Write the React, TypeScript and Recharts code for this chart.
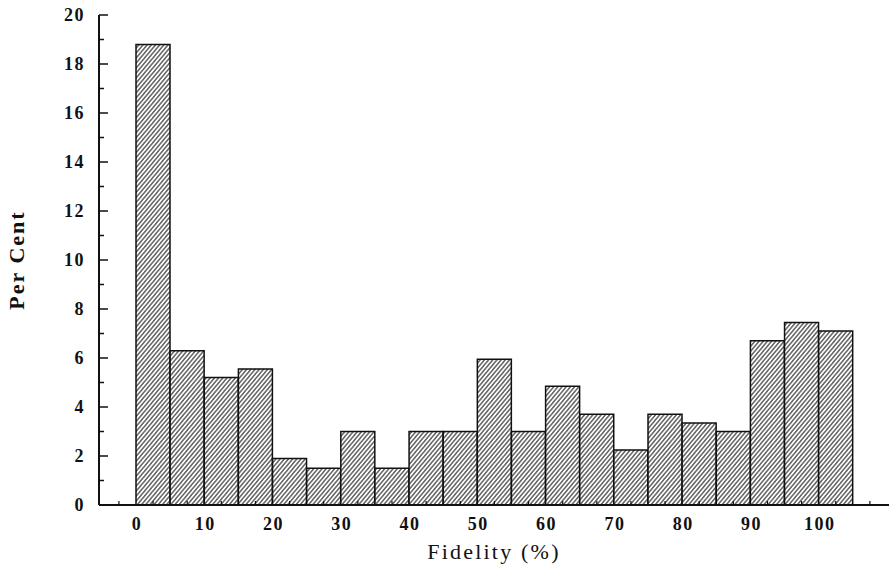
import React from "react";
import { BarChart, Bar, XAxis, YAxis } from "recharts";

// bin centres (bins are 5 wide, 0-5 ... 100-105)
const binMids = [
  2.5, 7.5, 12.5, 17.5, 22.5, 27.5, 32.5, 37.5, 42.5, 47.5, 52.5,
  57.5, 62.5, 67.5, 72.5, 77.5, 82.5, 87.5, 92.5, 97.5, 102.5
];
const perCent = [
  18.8, 6.3, 5.2, 5.55, 1.9, 1.5, 3.0, 1.5, 3.0, 3.0, 5.95,
  3.0, 4.85, 3.7, 2.25, 3.7, 3.35, 3.0, 6.7, 7.45, 7.1
];
const xLabelTicks = [0, 10, 20, 30, 40, 50, 60, 70, 80, 90, 100];
const xMinorTicks = [
  -2.5, 2.5, 7.5, 12.5, 17.5, 22.5, 27.5, 32.5, 37.5, 42.5, 47.5, 52.5,
  57.5, 62.5, 67.5, 72.5, 77.5, 82.5, 87.5, 92.5, 97.5, 102.5, 107.5
];
const yTicks = [0, 1, 2, 3, 4, 5, 6, 7, 8, 9, 10, 11, 12, 13, 14, 15, 16, 17, 18, 19, 20];

const chartData = binMids.map((mid, i) => ({ mid, value: perCent[i] }));
const xTicks = [...xMinorTicks, ...xLabelTicks].sort((a, b) => a - b);

const ink = "#111";
const font = "'Liberation Serif', 'Times New Roman', serif";
const Y_MARGIN = 14;
const X_MARGIN = 12;

function YTick(props: any) {
  const { x, y, payload } = props;
  const v = payload.value;
  const major = v % 2 === 0;
  const axisX = x + Y_MARGIN;
  return (
    <g>
      <line x1={axisX} x2={axisX + (major ? 9 : 5)} y1={y} y2={y} stroke={ink} strokeWidth={1.5} />
      {major && (
        <text
          x={x}
          y={y}
          dy="0.35em"
          textAnchor="end"
          fontFamily={font}
          fontSize={18}
          fontWeight="bold"
          letterSpacing={1.5}
          fill={ink}
        >
          {v}
        </text>
      )}
    </g>
  );
}

function XTick(props: any) {
  const { x, y, payload } = props;
  const v = payload.value;
  const axisY = y - X_MARGIN;
  if (v % 10 !== 0) {
    return <line x1={x} x2={x} y1={axisY} y2={axisY - 4} stroke={ink} strokeWidth={1.2} />;
  }
  return (
    <text
      x={x + 1}
      y={y}
      dy="0.71em"
      textAnchor="middle"
      fontFamily={font}
      fontSize={18}
      fontWeight="bold"
      letterSpacing={1.5}
      fill={ink}
    >
      {v}
    </text>
  );
}

export default function App() {
  return (
    <div style={{ position: "absolute", left: 0, top: 0, background: "#fff" }}>
      <svg width={0} height={0} style={{ position: "absolute" }}>
        <defs>
          <pattern
            id="hatch"
            patternUnits="userSpaceOnUse"
            width={3.2}
            height={3.2}
            patternTransform="rotate(40)"
          >
            <rect width={3.2} height={3.2} fill="#fff" />
            <line x1={0.8} y1={0} x2={0.8} y2={3.2} stroke={ink} strokeWidth={1} />
          </pattern>
        </defs>
      </svg>
      <BarChart
        width={894}
        height={577}
        data={chartData}
        margin={{ top: 15, right: 5, left: 0, bottom: 0 }}
        barCategoryGap={0}
        barGap={0}
      >
        <XAxis
          dataKey="mid"
          type="number"
          domain={[-5.42, 110.3]}
          ticks={xTicks}
          interval={0}
          height={72}
          tickSize={0}
          tickMargin={X_MARGIN}
          tickLine={false}
          tick={<XTick />}
          axisLine={{ stroke: ink, strokeWidth: 2 }}
          allowDataOverflow
          label={{
            value: "Fidelity (%)",
            position: "center",
            dy: 10,
            style: { fontFamily: font, fontSize: 22, letterSpacing: 2.2, fill: ink }
          }}
        />
        <YAxis
          type="number"
          domain={[0, 20]}
          ticks={yTicks}
          interval={0}
          width={99}
          tickSize={0}
          tickMargin={Y_MARGIN}
          tickLine={false}
          tick={<YTick />}
          axisLine={{ stroke: ink, strokeWidth: 2 }}
          label={{
            value: "Per Cent",
            angle: -90,
            position: "center",
            dx: -33,
            style: { fontFamily: font, fontSize: 22, letterSpacing: 2, fill: ink, fontWeight: "bold" }
          }}
        />
        <Bar
          dataKey="value"
          fill="url(#hatch)"
          stroke={ink}
          strokeWidth={1.5}
          isAnimationActive={false}
        />
      </BarChart>
    </div>
  );
}
